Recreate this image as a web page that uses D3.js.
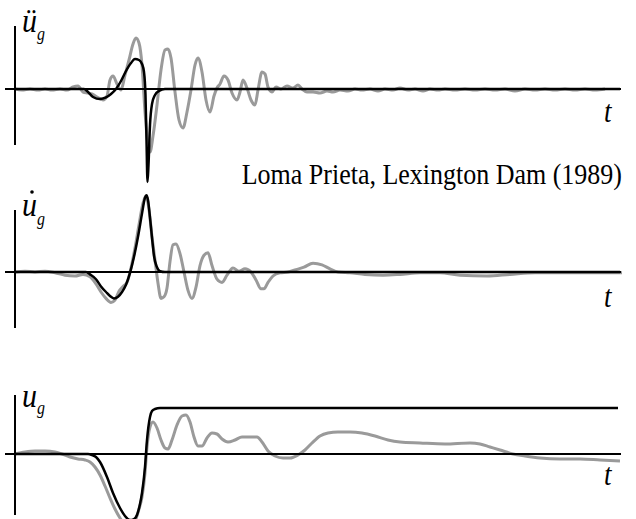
<!DOCTYPE html>
<html>
<head>
<meta charset="utf-8">
<script src="https://cdn.jsdelivr.net/npm/d3@7"></script>
<style>
  html, body { margin: 0; padding: 0; background: #fff; }
  svg { display: block; }
</style>
</head>
<body>
<svg id="chart" width="636" height="519"></svg>
<script>
// Loma Prieta, Lexington Dam (1989): recorded ground motion (gray) and
// the fitted velocity pulse (black). Time in s, acceleration in m/s²,
// velocity in m/s, displacement in m.

const titleText = "Loma Prieta, Lexington Dam (1989)";
const timeLabel = "t";

// --- acceleration, recorded ---
const accRecT = [0,.14,.30,.46,.60,.74,.90,1.04,1.16,1.26,1.36,1.46,1.54,1.64,1.76,1.84,1.90,1.96,2.04,2.12,
  2.20,2.28,2.36,2.42,2.48,2.54,2.60,2.66,2.70,2.76,2.84,2.92,3.00,3.06,3.12,3.20,3.28,3.36,3.44,3.52,
  3.60,3.66,3.74,3.82,3.90,3.98,4.04,4.10,4.18,4.26,4.34,4.44,4.50,4.56,4.64,4.72,4.80,4.86,4.94,5.00,
  5.06,5.14,5.22,5.32,5.44,5.56,5.66,5.74,5.84,5.96,6.10,6.24,6.36,6.50,6.66,6.80,6.94,7.10,7.26,7.40,
  7.56,7.70,7.86,8.00,8.16,8.30,8.46,8.60,8.80,9.00,9.20,9.40,9.60,9.80,10.00,10.20,10.40,10.60,10.80,11.00,
  11.20,11.40,11.60,11.80];
const accRec = [0,-.05,0,-.05,0,-.05,0,-.05,.10,.15,-.15,-.20,-.25,-.40,-.55,-.35,.45,.65,.25,-.05,
  .70,1.45,2.25,2.55,2.30,1.20,-1.15,-2.80,-3.15,-2.35,-.80,.95,1.95,2.00,1.55,-.15,-1.55,-1.95,-1.15,-.05,
  1.20,1.55,.85,-.55,-1.15,-.35,.05,.25,.65,.45,-.20,-.55,-.15,.45,.05,-.55,-.80,-.05,.85,.75,
  .10,-.15,.10,0,.15,.05,.20,0,-.15,-.15,-.20,-.10,-.15,-.05,-.10,0,-.05,0,-.10,0,
  -.05,.05,-.05,0,-.10,0,-.05,0,-.05,0,-.05,0,-.05,0,-.10,0,-.05,0,-.05,0,
  -.05,0,-.05,0];

// --- acceleration, pulse model ---
const accPulseT = [0,1.38,1.46,1.56,1.70,1.82,1.92,2.02,2.12,2.22,2.32,2.40,2.48,2.54,2.58,2.61,2.63,2.65,2.67,2.70,
  2.74,2.80,2.88,3.00,12.10];
const accPulse = [0,0,-.15,-.40,-.50,-.42,-.25,0,.40,.90,1.30,1.50,1.45,1.25,.85,-.30,-2.55,-4.65,-3.80,-1.80,
  -.75,-.30,-.10,0,0];

// --- velocity, recorded ---
const velRecT = [0,.20,.40,.60,.80,1.00,1.20,1.36,1.50,1.62,1.72,1.82,1.92,2.00,2.08,2.16,2.24,2.32,2.40,2.48,
  2.56,2.62,2.68,2.74,2.80,2.86,2.92,2.98,3.04,3.10,3.16,3.22,3.30,3.38,3.46,3.54,3.62,3.70,3.78,3.86,
  3.94,4.04,4.14,4.24,4.36,4.48,4.60,4.72,4.82,4.92,4.98,5.06,5.16,5.30,5.46,5.62,5.78,5.96,6.14,6.30,
  6.46,6.70,7.00,7.36,7.70,8.10,8.50,8.90,9.44,9.90,10.40,11.00,11.60,12.14];
const velRec = [0,.01,0,.01,-.01,-.04,-.05,-.03,-.06,-.15,-.25,-.33,-.38,-.35,-.24,-.18,-.13,.05,.30,.59,
  .86,.95,.78,.44,.15,-.14,-.33,-.31,-.20,.13,.34,.35,.23,0,-.23,-.33,-.19,.08,.21,.24,
  .08,-.09,-.13,-.04,.05,.01,.04,0,-.10,-.21,-.21,-.13,-.05,-.01,0,.03,.06,.11,.09,.04,
  0,-.01,-.03,-.04,-.03,-.01,-.01,-.04,-.05,-.03,-.01,-.01,-.01,-.01];

// --- velocity, pulse model ---
const velPulseT = [0,1.42,1.50,1.62,1.72,1.82,1.90,1.98,2.06,2.14,2.22,2.30,2.38,2.46,2.54,2.60,2.63,2.66,2.70,2.74,
  2.78,2.84,2.90,3.00,12.10];
const velPulse = [0,0,-.03,-.09,-.18,-.25,-.30,-.33,-.31,-.25,-.16,-.01,.19,.44,.73,.93,.96,.90,.68,.43,
  .20,.06,.01,0,0];

// --- displacement, recorded ---
const dispRecT = [0,.20,.40,.60,.80,.94,1.10,1.26,1.40,1.50,1.60,1.70,1.80,1.90,2.00,2.10,2.20,2.30,2.40,2.48,
  2.54,2.60,2.64,2.70,2.76,2.84,2.92,3.00,3.06,3.14,3.24,3.34,3.42,3.50,3.58,3.66,3.74,3.84,3.94,4.04,
  4.14,4.26,4.40,4.54,4.70,4.84,4.94,5.06,5.20,5.36,5.50,5.66,5.80,5.94,6.10,6.26,6.46,6.70,6.94,7.20,
  7.46,7.70,8.10,8.60,9.10,9.30,9.50,9.70,9.96,10.20,10.50,10.90,11.30,11.70,12.10];
const dispRec = [0,.02,.03,.03,.02,0,-.03,-.05,-.06,-.08,-.13,-.21,-.32,-.44,-.55,-.64,-.70,-.71,-.67,-.55,
  -.43,-.19,.07,.27,.32,.26,.14,.06,.05,.14,.29,.38,.39,.32,.17,.08,.08,.16,.21,.20,
  .15,.12,.14,.17,.17,.17,.12,.03,-.02,-.04,-.04,-.01,.04,.11,.18,.21,.22,.22,.21,.18,
  .14,.12,.11,.10,.11,.10,.07,.04,0,-.02,-.04,-.05,-.05,-.06,-.07];

// --- displacement, pulse model ---
const dispPulseT = [0,1.46,1.54,1.62,1.70,1.84,1.96,2.10,2.20,2.30,2.38,2.44,2.50,2.54,2.60,2.64,2.70,2.74,2.80,2.90,
  3.00,12.06];
const dispPulse = [0,0,-.01,-.03,-.08,-.23,-.39,-.54,-.62,-.66,-.65,-.61,-.50,-.39,-.13,.14,.37,.43,.45,.46,
  .46,.46];

// ---------------------------------------------------------------------------
const svg = d3.select("#chart");
const GRAY = "#9a9a9a";
const SERIF = "'Liberation Serif', 'Times New Roman', serif";
const STRETCH = 1.15;

const x = d3.scaleLinear().domain([0, 12.1]).range([15, 620]);

// each panel: zero line position, pixels per unit, vertical axis extent
const panels = [
  { zero: 89,  ppu: 20,  top: 26,  bottom: 145, sym: "\u00FC", tY: 122, lab: [22, 32, 40],
    rec: [accRecT, accRec], pulse: [accPulseT, accPulse] },
  { zero: 272, ppu: 80,  top: 210, bottom: 328, sym: "u", dot: true, tY: 307, lab: [22, 216, 225],
    rec: [velRecT, velRec], pulse: [velPulseT, velPulse] },
  { zero: 454, ppu: 100, top: 395, bottom: 515, sym: "u", tY: 485, lab: [22, 407, 414],
    rec: [dispRecT, dispRec], pulse: [dispPulseT, dispPulse] }
];

function stretchedText(parent, px, py, str, size, opts = {}) {
  const g = parent.append("g").attr("transform", `translate(${px},${py}) scale(1,${STRETCH})`);
  return g.append("text")
    .attr("x", 0).attr("y", 0)
    .attr("font-family", SERIF)
    .attr("font-size", size)
    .attr("font-style", opts.italic ? "italic" : "normal")
    .attr("text-anchor", opts.anchor || "start")
    .attr("fill", "#000")
    .text(str);
}

panels.forEach(p => {
  const y = d3.scaleLinear().domain([-1, 1]).range([p.zero + p.ppu, p.zero - p.ppu]);
  const g = svg.append("g");
  const line = (tArr) => d3.line()
    .x((d, i) => x(tArr[i]))
    .y(d => y(d))
    .curve(d3.curveMonotoneX);

  // recorded motion
  g.append("path")
    .datum(p.rec[1])
    .attr("d", line(p.rec[0]))
    .attr("fill", "none")
    .attr("stroke", GRAY)
    .attr("stroke-width", 3)
    .attr("stroke-linejoin", "round");

  // axes
  g.append("line")
    .attr("x1", 5).attr("x2", 621)
    .attr("y1", y(0)).attr("y2", y(0))
    .attr("stroke", "#000").attr("stroke-width", 2);
  g.append("line")
    .attr("x1", x(0)).attr("x2", x(0))
    .attr("y1", p.top).attr("y2", p.bottom)
    .attr("stroke", "#000").attr("stroke-width", 2);

  // pulse model
  g.append("path")
    .datum(p.pulse[1])
    .attr("d", line(p.pulse[0]))
    .attr("fill", "none")
    .attr("stroke", "#000")
    .attr("stroke-width", 2.5)
    .attr("stroke-linejoin", "round");

  // axis symbols
  stretchedText(g, p.lab[0], p.lab[1], p.sym, 30, { italic: true });
  stretchedText(g, p.lab[0] + 15, p.lab[2], "g", 16, { italic: true });
  if (p.dot) {
    g.append("circle").attr("cx", p.lab[0] + 10).attr("cy", p.lab[1] - 24).attr("r", 1.8).attr("fill", "#000");
  }
  stretchedText(g, 604, p.tY, timeLabel, 27, { italic: true });
});

stretchedText(svg, 622, 184, titleText, 26, { anchor: "end" });
</script>
</body>
</html>
